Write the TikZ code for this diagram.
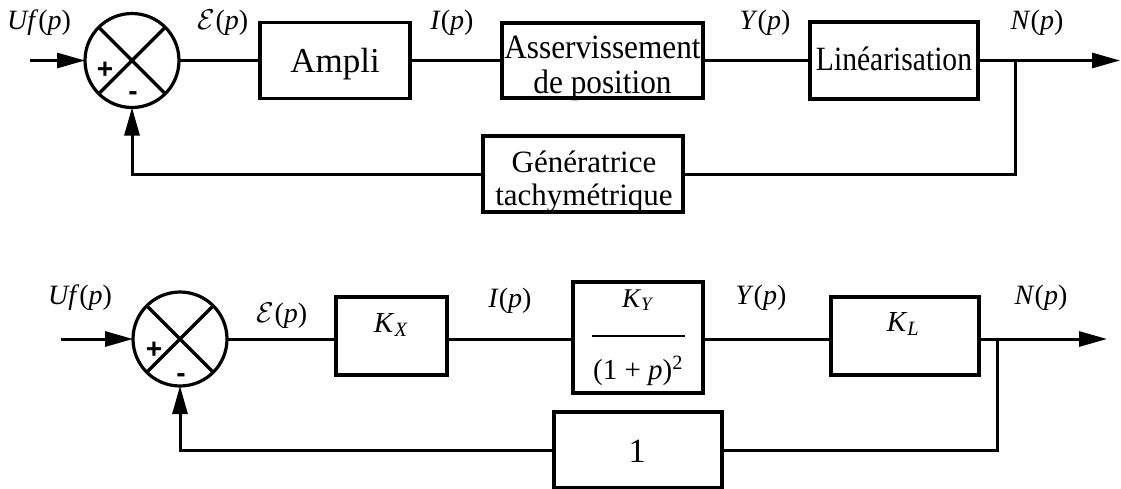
\documentclass[tikz,border=0pt]{standalone}
\usepackage{fontspec}
\setmainfont{Liberation Serif}
\setsansfont{Liberation Sans}
\usetikzlibrary{arrows.meta}
\newcommand{\errsym}{\scalebox{1.15}{$\mathcal{E}$}}
\begin{document}
\begin{tikzpicture}[x=1pt,y=-1pt,
  box/.style={draw,line width=3.2pt,inner sep=0pt,outer sep=0pt,align=center},
  sumnode/.style={draw,circle,line width=3.2pt,minimum size=94pt,inner sep=0pt,outer sep=0pt},
  wire/.style={line width=3pt},
  arr/.style={wire,-{Triangle[length=28pt,width=15pt]}},
  sig/.style={font=\fontsize{28}{32}\selectfont,inner sep=0pt},
  boxtxt/.style={font=\fontsize{34}{36}\selectfont,inner sep=0pt},
  gaintxt/.style={font=\fontsize{29}{32}\selectfont,inner sep=0pt},
  sgn/.style={font=\sffamily\bfseries\fontsize{28}{28}\selectfont,inner sep=0pt}
]
\useasboundingbox (0,0) rectangle (1121,488);

% ---------- upper diagram: physical blocks ----------
\node[sumnode] (s1) at (132,60.5) {};
\draw[line width=3.2pt] (s1.45) -- (s1.225) (s1.135) -- (s1.315);
\node[sgn] (p1) at (105,70) {+};
\node[sgn] (m1) at (133,96) {-};

\node[box,minimum width=150pt,minimum height=76pt] (amp) at (335,60.5) {};
\node[boxtxt,font=\fontsize{35}{36}\selectfont,anchor=base] (ampT) at (335,72) {Ampli};

\node[box,minimum width=201pt,minimum height=75pt] (asv) at (602.5,60.5) {};
\node[boxtxt,anchor=base] (asvA) at (602.5,58) {\scalebox{0.92}[1]{Asservissement}};
\node[boxtxt,anchor=base] (asvB) at (602.5,93) {\scalebox{0.92}[1]{de position}};

\node[box,minimum width=168pt,minimum height=77pt] (lin) at (894,60.5) {};
\node[boxtxt,anchor=base] (linT) at (894,70) {\scalebox{0.87}[1]{Linéarisation}};

\node[box,minimum width=200pt,minimum height=76pt] (gen) at (583,174) {};
\node[boxtxt,font=\fontsize{31}{32}\selectfont,anchor=base] (genA) at (584,172) {Génératrice};
\node[boxtxt,font=\fontsize{31}{32}\selectfont,anchor=base] (genB) at (584,205) {tachymétrique};

\coordinate (in1) at (30,60.5);
\coordinate (b1) at (1015,60.5);
\coordinate (out1) at (1120,60.5);

\draw[arr] (in1) -- (s1.west);
\draw[wire] (s1.east) -- (amp.west);
\draw[wire] (amp.east) -- (asv.west);
\draw[wire] (asv.east) -- (lin.west);
\draw[arr] (lin.east) -- (out1);
\draw[wire] (b1) |- (gen.east);
\draw[arr] (gen.west) -| (s1.south);

\node[sig] (u1) at (39,23) {\textit{Uf}(\textit{p})};
\node[sig] (e1) at (223,23) {\errsym(\textit{p})};
\node[sig] (i1) at (452,23) {\textit{I}(\textit{p})};
\node[sig] (y1) at (765,23) {\textit{Y}(\textit{p})};
\node[sig] (n1) at (1037,23) {\textit{N}(\textit{p})};

% ---------- lower diagram: transfer functions ----------
\node[sumnode] (s2) at (180,339) {};
\draw[line width=3.2pt] (s2.45) -- (s2.225) (s2.135) -- (s2.315);
\node[sgn] (p2) at (154,350) {+};
\node[sgn] (m2) at (181,378) {-};

\node[box,minimum width=111pt,minimum height=78pt] (kx) at (391.5,336) {};
\node[gaintxt,anchor=base] (kxT) at (391,332) {\textit{K}\textsubscript{\textit{X}}};

\node[box,minimum width=130pt,minimum height=111pt] (ky) at (638,337.5) {};
\node[gaintxt,font=\fontsize{27}{30}\selectfont,anchor=base] (kyN) at (638,307) {\textit{K}\textsubscript{\textit{Y}}};
\node[gaintxt,anchor=base] (kyD) at (638,379) {(1 + \textit{p})\textsuperscript{2}};
\draw[line width=2.4pt] (592,336) -- (685,336);

\node[box,minimum width=148pt,minimum height=78pt] (kl) at (905,336) {};
\node[gaintxt,anchor=base] (klT) at (903,331) {\textit{K}\textsubscript{\textit{L}}};

\node[box,minimum width=168pt,minimum height=76pt] (one) at (638,450) {};
\node[boxtxt,anchor=base] (oneT) at (637,462) {1};

\coordinate (in2) at (61,339);
\coordinate (b2) at (997,339);
\coordinate (out2) at (1107,339);

\draw[arr] (in2) -- (s2.west);
\draw[wire] (s2.east) -- (kx.west |- s2.east);
\draw[wire] (kx.east |- s2.east) -- (ky.west |- s2.east);
\draw[wire] (ky.east |- s2.east) -- (kl.west |- s2.east);
\draw[arr] (kl.east |- s2.east) -- (out2);
\draw[wire] (b2) |- (one.east);
\draw[arr] (one.west) -| (s2.south);

\node[sig] (u2) at (80,298) {\textit{Uf}(\textit{p})};
\node[sig] (e2) at (282,316) {\errsym(\textit{p})};
\node[sig] (i2) at (510,301) {\textit{I}(\textit{p})};
\node[sig] (y2) at (761,298) {\textit{Y}(\textit{p})};
\node[sig] (n2) at (1041,298) {\textit{N}(\textit{p})};
\end{tikzpicture}
\end{document}
